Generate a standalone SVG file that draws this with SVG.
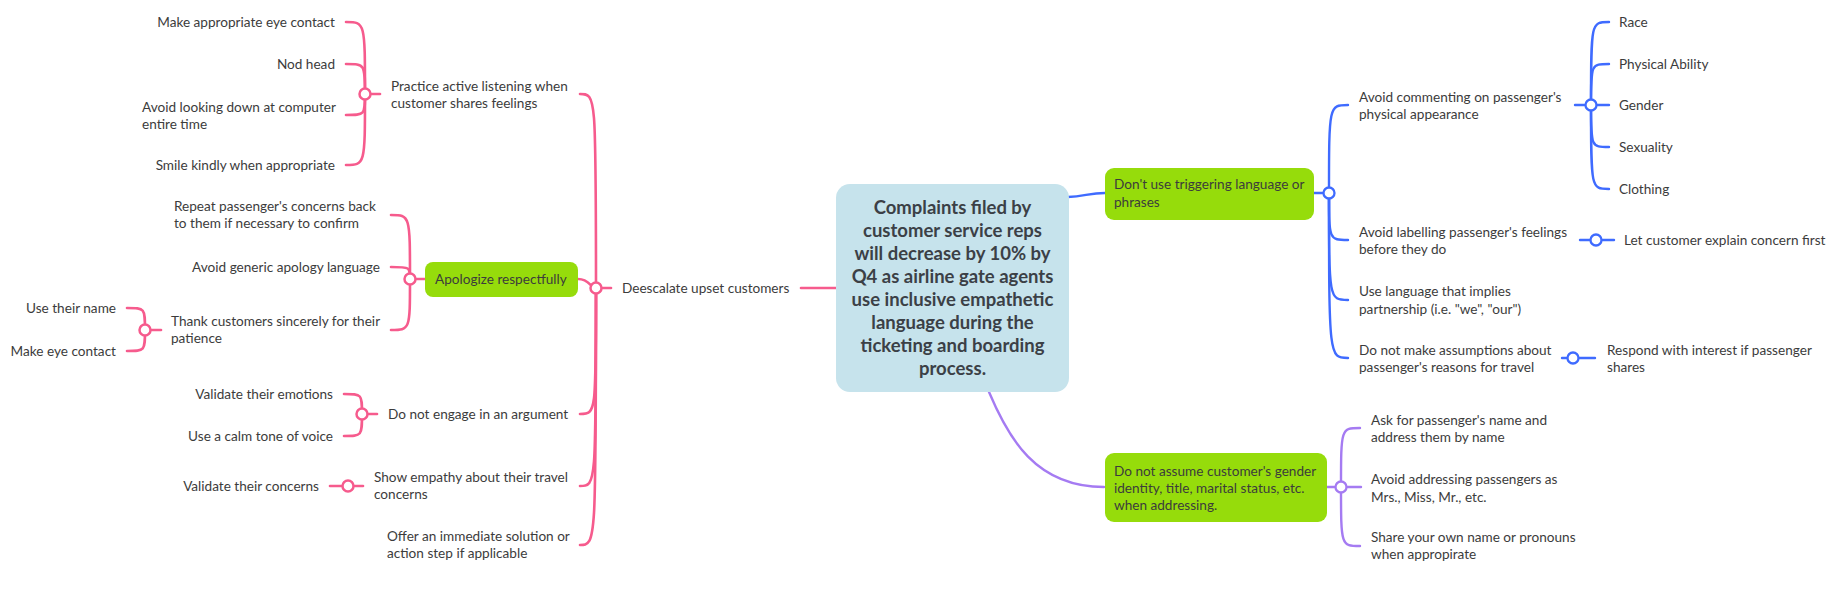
<svg xmlns="http://www.w3.org/2000/svg" width="1837" height="592" viewBox="0 0 1837 592">
<style>
.t{font-family:Lato,"Liberation Sans",sans-serif;font-size:13.6px;fill:#3c3c3c}
.e{text-anchor:end}
.root{font-family:Lato,"Liberation Sans",sans-serif;font-size:18.5px;font-weight:bold;fill:#3b4046;text-anchor:middle}
.pk{fill:none;stroke:#F65B8D;stroke-width:2.6;stroke-linecap:round}
.bl{fill:none;stroke:#3F6BFF;stroke-width:2.4;stroke-linecap:round}
.pu{fill:none;stroke:#A57BF2;stroke-width:2.4;stroke-linecap:round}
.cpk{fill:#fff;stroke:#F65B8D;stroke-width:2.5}
.cbl{fill:#fff;stroke:#3F6BFF;stroke-width:2.3}
.cpu{fill:#fff;stroke:#A57BF2;stroke-width:2.3}
.g{fill:#96DC0B}
</style>
<rect width="1837" height="592" fill="#fff"/>
<g id="connectors">
<path class="pk" d="M801 288H836"/>
<path class="pk" d="M596 288H611"/>
<path class="pk" d="M596 288C596 94 596 94 580 94"/>
<path class="pk" d="M578 279C590 279 590 288 596 288"/>
<path class="pk" d="M596 288C596 414 596 414 580 414"/>
<path class="pk" d="M596 288C596 486 596 486 580 486"/>
<path class="pk" d="M596 288C596 545 596 545 580 545"/>
<path class="pk" d="M365 94H380"/>
<path class="pk" d="M365 94C365 22 365 22 346 22"/>
<path class="pk" d="M365 94C365 64 365 64 346 64"/>
<path class="pk" d="M365 94C365 115 365 115 346 115"/>
<path class="pk" d="M365 94C365 165 365 165 346 165"/>
<path class="pk" d="M410 279H425"/>
<path class="pk" d="M410 279C410 215 410 215 391 215"/>
<path class="pk" d="M410 279C410 267 410 267 391 267"/>
<path class="pk" d="M410 279C410 330 410 330 391 330"/>
<path class="pk" d="M145 330H161"/>
<path class="pk" d="M145 330C145 308 145 308 127 308"/>
<path class="pk" d="M145 330C145 351 145 351 127 351"/>
<path class="pk" d="M362 414H377"/>
<path class="pk" d="M362 414C362 394 362 394 344 394"/>
<path class="pk" d="M362 414C362 436 362 436 344 436"/>
<path class="pk" d="M330 486H363"/>
<path class="bl" d="M1068 197C1085 196 1090 193 1105 193"/>
<path class="bl" d="M1314 193H1329"/>
<path class="bl" d="M1329 193C1329 105 1329 105 1348 105"/>
<path class="bl" d="M1329 193C1329 240 1329 240 1348 240"/>
<path class="bl" d="M1329 193C1329 300 1329 300 1348 300"/>
<path class="bl" d="M1329 193C1329 358 1329 358 1348 358"/>
<path class="bl" d="M1575 105H1609"/>
<path class="bl" d="M1591 105C1591 22 1591 22 1609 22"/>
<path class="bl" d="M1591 105C1591 64 1591 64 1609 64"/>
<path class="bl" d="M1591 105C1591 147 1591 147 1609 147"/>
<path class="bl" d="M1591 105C1591 189 1591 189 1609 189"/>
<path class="bl" d="M1580 240H1614"/>
<path class="bl" d="M1562 358H1595"/>
<path class="pu" d="M989 392C1008 437 1035 487 1104 487"/>
<path class="pu" d="M1327 487H1361"/>
<path class="pu" d="M1341 487C1341 428 1341 428 1360 428"/>
<path class="pu" d="M1341 487C1341 546 1341 546 1360 546"/>
<circle class="cpk" cx="596" cy="288" r="5.5"/>
<circle class="cpk" cx="365" cy="94" r="5.5"/>
<circle class="cpk" cx="410" cy="279" r="5.5"/>
<circle class="cpk" cx="145" cy="330" r="5.5"/>
<circle class="cpk" cx="362" cy="414" r="5.5"/>
<circle class="cpk" cx="348" cy="486" r="5.5"/>
<circle class="cbl" cx="1329" cy="193" r="5.5"/>
<circle class="cbl" cx="1591" cy="105" r="5.5"/>
<circle class="cbl" cx="1596" cy="240" r="5.5"/>
<circle class="cbl" cx="1573" cy="358" r="5.5"/>
<circle class="cpu" cx="1341" cy="487" r="5.5"/>
</g>
<g id="root">
<rect x="836" y="184" width="233" height="208" rx="14" fill="#C6E3EC"/>
<text class="root"><tspan x="952.5" y="214">Complaints filed by</tspan><tspan x="952.5" y="237">customer service reps</tspan><tspan x="952.5" y="260">will decrease by 10% by</tspan><tspan x="952.5" y="283">Q4 as airline gate agents</tspan><tspan x="952.5" y="306">use inclusive empathetic</tspan><tspan x="952.5" y="329">language during the</tspan><tspan x="952.5" y="352">ticketing and boarding</tspan><tspan x="952.5" y="375">process.</tspan></text>
</g>
<g id="deescalate"><text class="t" x="622" y="293">Deescalate upset customers</text></g>
<g id="practice"><text class="t"><tspan x="391" y="91">Practice active listening when</tspan><tspan x="391" y="108">customer shares feelings</tspan></text></g>
<g id="eye-contact"><text class="t e" x="335" y="27">Make appropriate eye contact</text></g>
<g id="nod"><text class="t e" x="335" y="69">Nod head</text></g>
<g id="avoid-looking"><text class="t"><tspan x="142" y="112">Avoid looking down at computer</tspan><tspan x="142" y="129">entire time</tspan></text></g>
<g id="smile"><text class="t e" x="335" y="170">Smile kindly when appropriate</text></g>
<g id="apologize"><rect class="g" x="425" y="262" width="153" height="35" rx="8"/><text class="t" x="435" y="284">Apologize respectfully</text></g>
<g id="repeat"><text class="t"><tspan x="174" y="211">Repeat passenger's concerns back</tspan><tspan x="174" y="228">to them if necessary to confirm</tspan></text></g>
<g id="generic"><text class="t e" x="380" y="272">Avoid generic apology language</text></g>
<g id="thank"><text class="t"><tspan x="171" y="326">Thank customers sincerely for their</tspan><tspan x="171" y="343">patience</tspan></text></g>
<g id="name"><text class="t e" x="116" y="313">Use their name</text></g>
<g id="eye"><text class="t e" x="116" y="356">Make eye contact</text></g>
<g id="argument"><text class="t" x="388" y="419">Do not engage in an argument</text></g>
<g id="emotions"><text class="t e" x="333" y="399">Validate their emotions</text></g>
<g id="calm"><text class="t e" x="333" y="441">Use a calm tone of voice</text></g>
<g id="empathy"><text class="t"><tspan x="374" y="482">Show empathy about their travel</tspan><tspan x="374" y="499">concerns</tspan></text></g>
<g id="concerns"><text class="t e" x="319" y="491">Validate their concerns</text></g>
<g id="offer"><text class="t"><tspan x="387" y="541">Offer an immediate solution or</tspan><tspan x="387" y="558">action step if applicable</tspan></text></g>
<g id="triggering"><rect class="g" x="1105" y="168" width="209" height="52" rx="9"/><text class="t"><tspan x="1114" y="189">Don't use triggering language or</tspan><tspan x="1114" y="207">phrases</tspan></text></g>
<g id="appearance"><text class="t"><tspan x="1359" y="102">Avoid commenting on passenger's</tspan><tspan x="1359" y="119">physical appearance</tspan></text></g>
<g id="race"><text class="t" x="1619" y="27">Race</text></g>
<g id="ability"><text class="t" x="1619" y="69">Physical Ability</text></g>
<g id="gender"><text class="t" x="1619" y="110">Gender</text></g>
<g id="sexuality"><text class="t" x="1619" y="152">Sexuality</text></g>
<g id="clothing"><text class="t" x="1619" y="194">Clothing</text></g>
<g id="labelling"><text class="t"><tspan x="1359" y="237">Avoid labelling passenger's feelings</tspan><tspan x="1359" y="254">before they do</tspan></text></g>
<g id="explain"><text class="t" x="1624" y="245">Let customer explain concern first</text></g>
<g id="partnership"><text class="t"><tspan x="1359" y="296">Use language that implies</tspan><tspan x="1359" y="314">partnership (i.e. "we", "our")</tspan></text></g>
<g id="assumptions"><text class="t"><tspan x="1359" y="355">Do not make assumptions about</tspan><tspan x="1359" y="372">passenger's reasons for travel</tspan></text></g>
<g id="respond"><text class="t"><tspan x="1607" y="355">Respond with interest if passenger</tspan><tspan x="1607" y="372">shares</tspan></text></g>
<g id="gender-identity"><rect class="g" x="1105" y="453" width="222" height="69" rx="9"/><text class="t"><tspan x="1114" y="476">Do not assume customer's gender</tspan><tspan x="1114" y="493">identity, title, marital status, etc.</tspan><tspan x="1114" y="510">when addressing.</tspan></text></g>
<g id="ask-name"><text class="t"><tspan x="1371" y="425">Ask for passenger's name and</tspan><tspan x="1371" y="442">address them by name</tspan></text></g>
<g id="titles"><text class="t"><tspan x="1371" y="484">Avoid addressing passengers as</tspan><tspan x="1371" y="502">Mrs., Miss, Mr., etc.</tspan></text></g>
<g id="pronouns"><text class="t"><tspan x="1371" y="542">Share your own name or pronouns</tspan><tspan x="1371" y="559">when appropirate</tspan></text></g>
</svg>
